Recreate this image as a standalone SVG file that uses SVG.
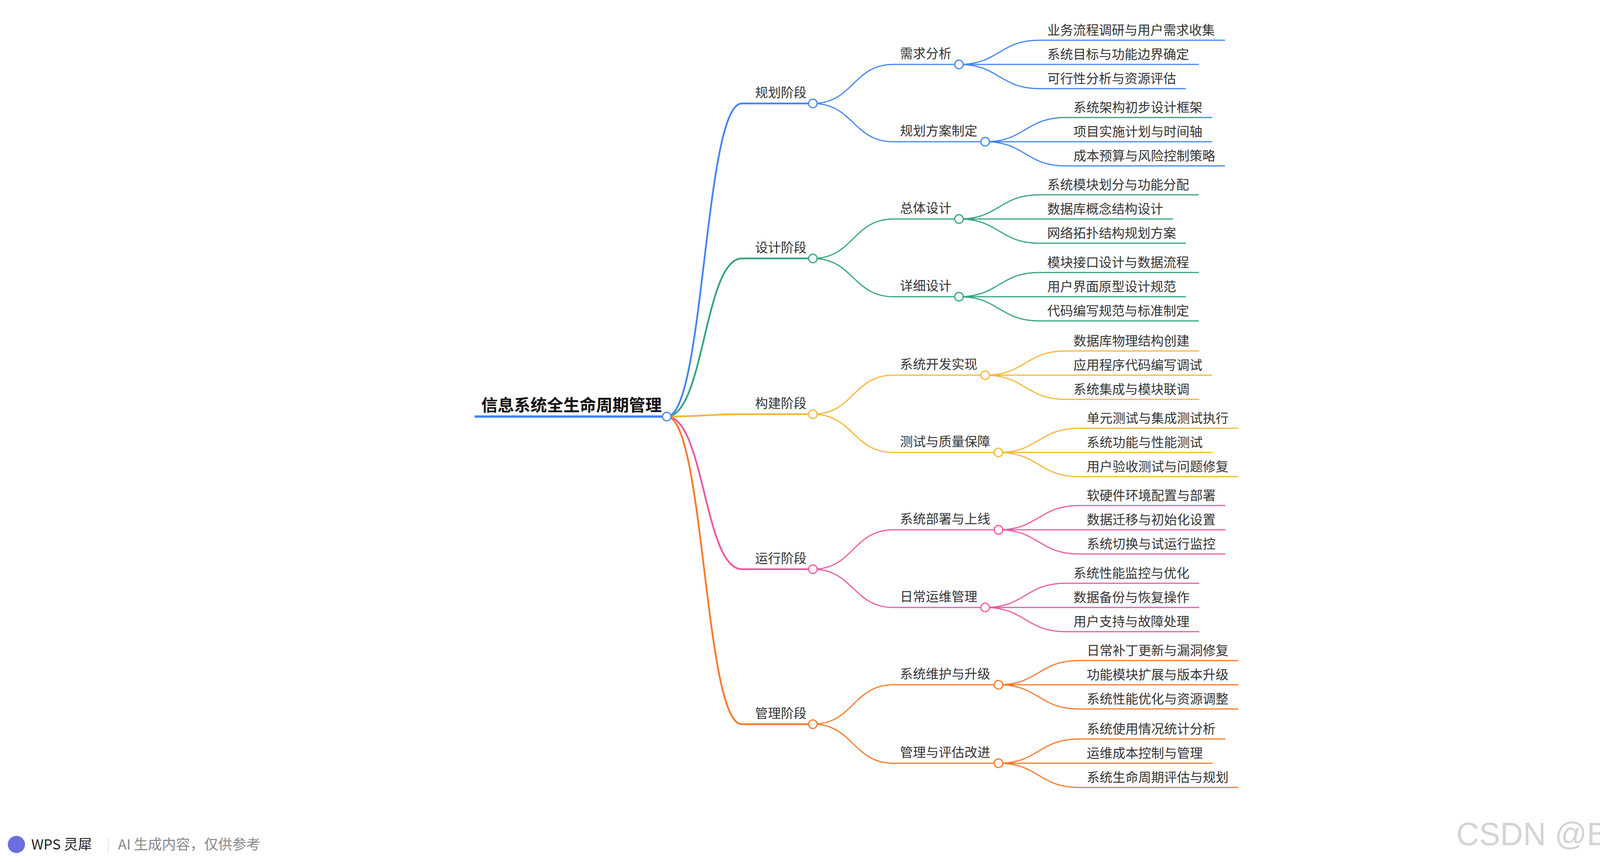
<svg xmlns="http://www.w3.org/2000/svg" width="4380" height="2208" viewBox="0 0 4380 2208">
<style>
text{font-family:"Noto Sans CJK SC","Noto Sans",sans-serif;font-size:33px;fill:#333}
.c path{fill:none;stroke-width:3}
.b{stroke:#4285f4}.g{stroke:#34a57c}.y{stroke:#f7b733}.p{stroke:#ec5aa0}.o{stroke:#f57a2c}
.t{stroke-width:4.5!important}
circle{fill:#fff;stroke-width:3}
</style>
<rect width="4380" height="2208" fill="#fff"/>
<g id="connectors" class="c">
<path class="b" style="stroke-width:6" d="M1215,1067H1707"/>
<path class="b t" d="M1707,1067C1803,1067 1803,265 1899,265H2081"/>
<path class="g t" d="M1707,1067C1803,1067 1803,662 1899,662H2081"/>
<path class="y t" d="M1707,1067C1803,1067 1803,1061 1899,1061H2081"/>
<path class="p t" d="M1707,1067C1803,1067 1803,1458 1899,1458H2081"/>
<path class="o t" d="M1707,1067C1803,1067 1803,1855 1899,1855H2081"/>
<path class="b" d="M2081,265C2184,265 2184,165 2287,165H2455M2081,265C2184,265 2184,363 2287,363H2522"/>
<path class="g" d="M2081,662C2184,662 2184,561 2287,561H2455M2081,662C2184,662 2184,760 2287,760H2455"/>
<path class="y" d="M2081,1061C2184,1061 2184,961 2287,961H2522M2081,1061C2184,1061 2184,1159 2287,1159H2556"/>
<path class="p" d="M2081,1458C2184,1458 2184,1357 2287,1357H2556M2081,1458C2184,1458 2184,1556 2287,1556H2522"/>
<path class="o" d="M2081,1855C2184,1855 2184,1754 2287,1754H2556M2081,1855C2184,1855 2184,1955 2287,1955H2556"/>
<path class="b" d="M2455,165C2558,165 2558,103 2661,103H3136M2455,165H3069M2455,165C2558,165 2558,227 2661,227H3036"/>
<path class="b" d="M2522,363C2625,363 2625,301 2728,301H3103M2522,363H3103M2522,363C2625,363 2625,425 2728,425H3136"/>
<path class="g" d="M2455,561C2558,561 2558,499 2661,499H3069M2455,561H3003M2455,561C2558,561 2558,623 2661,623H3036"/>
<path class="g" d="M2455,760C2558,760 2558,698 2661,698H3069M2455,760H3036M2455,760C2558,760 2558,822 2661,822H3069"/>
<path class="y" d="M2522,961C2625,961 2625,899 2728,899H3070M2522,961H3103M2522,961C2625,961 2625,1023 2728,1023H3070"/>
<path class="y" d="M2556,1159C2659,1159 2659,1097 2762,1097H3170M2556,1159H3104M2556,1159C2659,1159 2659,1221 2762,1221H3170"/>
<path class="p" d="M2556,1357C2659,1357 2659,1295 2762,1295H3137M2556,1357H3137M2556,1357C2659,1357 2659,1419 2762,1419H3137"/>
<path class="p" d="M2522,1556C2625,1556 2625,1494 2728,1494H3070M2522,1556H3070M2522,1556C2625,1556 2625,1618 2728,1618H3070"/>
<path class="o" d="M2556,1754C2659,1754 2659,1692 2762,1692H3170M2556,1754H3170M2556,1754C2659,1754 2659,1816 2762,1816H3170"/>
<path class="o" d="M2556,1955C2659,1955 2659,1893 2762,1893H3137M2556,1955H3104M2556,1955C2659,1955 2659,2017 2762,2017H3170"/>
</g>
<g id="root"><text x="1232" y="1053" style="font-size:42px;font-weight:bold;fill:#111">信息系统全生命周期管理</text><circle class="b" cx="1707" cy="1067" r="11"/></g>
<g id="n1"><text x="1933" y="249">规划阶段</text><circle class="b" cx="2081" cy="265" r="11"/></g>
<g id="n2"><text x="1933" y="646">设计阶段</text><circle class="g" cx="2081" cy="662" r="11"/></g>
<g id="n3"><text x="1933" y="1045">构建阶段</text><circle class="y" cx="2081" cy="1061" r="11"/></g>
<g id="n4"><text x="1933" y="1442">运行阶段</text><circle class="p" cx="2081" cy="1458" r="11"/></g>
<g id="n5"><text x="1933" y="1839">管理阶段</text><circle class="o" cx="2081" cy="1855" r="11"/></g>
<g id="n11"><text x="2304" y="149">需求分析</text><circle class="b" cx="2455" cy="165" r="11"/>
<text x="2681" y="89">业务流程调研与用户需求收集</text><text x="2681" y="151">系统目标与功能边界确定</text><text x="2681" y="213">可行性分析与资源评估</text></g>
<g id="n12"><text x="2304" y="347">规划方案制定</text><circle class="b" cx="2522" cy="363" r="11"/>
<text x="2748" y="287">系统架构初步设计框架</text><text x="2748" y="349">项目实施计划与时间轴</text><text x="2748" y="411">成本预算与风险控制策略</text></g>
<g id="n21"><text x="2304" y="545">总体设计</text><circle class="g" cx="2455" cy="561" r="11"/>
<text x="2681" y="485">系统模块划分与功能分配</text><text x="2681" y="547">数据库概念结构设计</text><text x="2681" y="609">网络拓扑结构规划方案</text></g>
<g id="n22"><text x="2304" y="744">详细设计</text><circle class="g" cx="2455" cy="760" r="11"/>
<text x="2681" y="684">模块接口设计与数据流程</text><text x="2681" y="746">用户界面原型设计规范</text><text x="2681" y="808">代码编写规范与标准制定</text></g>
<g id="n31"><text x="2304" y="945">系统开发实现</text><circle class="y" cx="2522" cy="961" r="11"/>
<text x="2748" y="885">数据库物理结构创建</text><text x="2748" y="947">应用程序代码编写调试</text><text x="2748" y="1009">系统集成与模块联调</text></g>
<g id="n32"><text x="2304" y="1143">测试与质量保障</text><circle class="y" cx="2556" cy="1159" r="11"/>
<text x="2782" y="1083">单元测试与集成测试执行</text><text x="2782" y="1145">系统功能与性能测试</text><text x="2782" y="1207">用户验收测试与问题修复</text></g>
<g id="n41"><text x="2304" y="1341">系统部署与上线</text><circle class="p" cx="2556" cy="1357" r="11"/>
<text x="2782" y="1281">软硬件环境配置与部署</text><text x="2782" y="1343">数据迁移与初始化设置</text><text x="2782" y="1405">系统切换与试运行监控</text></g>
<g id="n42"><text x="2304" y="1540">日常运维管理</text><circle class="p" cx="2522" cy="1556" r="11"/>
<text x="2748" y="1480">系统性能监控与优化</text><text x="2748" y="1542">数据备份与恢复操作</text><text x="2748" y="1604">用户支持与故障处理</text></g>
<g id="n51"><text x="2304" y="1738">系统维护与升级</text><circle class="o" cx="2556" cy="1754" r="11"/>
<text x="2782" y="1678">日常补丁更新与漏洞修复</text><text x="2782" y="1740">功能模块扩展与版本升级</text><text x="2782" y="1802">系统性能优化与资源调整</text></g>
<g id="n52"><text x="2304" y="1939">管理与评估改进</text><circle class="o" cx="2556" cy="1955" r="11"/>
<text x="2782" y="1879">系统使用情况统计分析</text><text x="2782" y="1941">运维成本控制与管理</text><text x="2782" y="2003">系统生命周期评估与规划</text></g>
<g id="footer">
<circle cx="42" cy="2163" r="22" style="fill:#6a6ee0;stroke:none"/>
<text x="80" y="2176" style="font-size:36px;fill:#222">WPS 灵犀</text>
<rect x="276" y="2147" width="2" height="36" fill="#e0e0e0"/>
<text x="302" y="2176" style="font-size:36px;fill:#888">AI 生成内容，仅供参考</text>
</g>
<text x="3728" y="2165" textLength="632" lengthAdjust="spacingAndGlyphs" style="font-family:'Liberation Sans',sans-serif;font-size:84px;fill:#d4d4d4">CSDN @Bol5261</text>
</svg>
